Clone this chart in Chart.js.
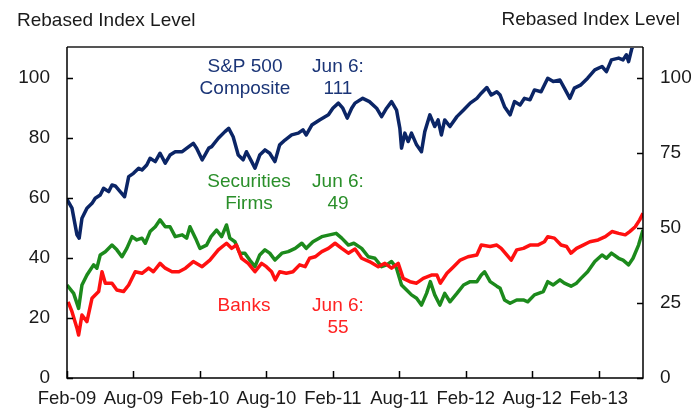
<!DOCTYPE html>
<html>
<head>
<meta charset="utf-8">
<script src="https://cdn.jsdelivr.net/npm/chart.js@4.4.1/dist/chart.umd.min.js"></script>
<style>
    html, body { margin: 0; padding: 0; background: #fff; }
    #chart { display: block; }
</style>
</head>
<body>
<canvas id="chart" width="691" height="413"></canvas>
<script>
// x values are months since Feb-09
const xTickMonths = [0, 6, 12, 18, 24, 30, 36, 42, 48];
const xTickLabels = ['Feb-09', 'Aug-09', 'Feb-10', 'Aug-10', 'Feb-11', 'Aug-11', 'Feb-12', 'Aug-12', 'Feb-13'];
const leftTicks = [0, 20, 40, 60, 80, 100];
const rightTicks = [0, 25, 50, 75, 100];

const spxMonths = [0.0, 0.45, 0.9, 1.1, 1.35, 1.8, 2.26, 2.55, 3.0, 3.3, 3.76, 4.06, 4.36, 4.8, 5.2, 5.57, 6.0, 6.47, 6.77, 7.2,
    7.5, 7.97, 8.4, 8.87, 9.3, 9.77, 10.4, 11.0, 11.4, 11.7, 12.2, 12.45, 12.8, 13.06, 13.66, 14.26, 14.6, 15.0, 15.46, 15.9,
    16.2, 16.67, 16.97, 17.4, 17.87, 18.3, 18.77, 19.2, 19.68, 20.28, 20.88, 21.3, 21.6, 22.1, 22.8, 23.6, 24.0, 24.5, 24.9, 25.3,
    25.7, 26.0, 26.7, 27.3, 27.95, 28.4, 28.85, 29.3, 29.75, 30.05, 30.2, 30.5, 30.8, 31.1, 31.56, 32.0, 32.3, 32.76, 33.2, 33.5,
    33.8, 34.1, 34.57, 35.2, 35.8, 36.4, 37.0, 37.4, 37.9, 38.3, 38.8, 39.1, 39.5, 40.0, 40.4, 40.9, 41.3, 41.8, 42.2, 42.8,
    43.4, 43.9, 44.5, 44.9, 45.4, 45.8, 46.4, 47.0, 47.65, 48.3, 48.7, 49.15, 49.8, 50.2, 50.5, 50.7, 51.0, 51.4, 52.0];
const spxValues = [59.5, 56.6, 47.7, 46.6, 53.2, 56.6, 58.2, 59.9, 61, 63.2, 62.1, 64.3, 64, 62.1, 60.4, 67.1, 68.2, 69.9, 69.3, 71,
    73.2, 72.1, 74.9, 71.6, 74.3, 75.4, 75.4, 77.1, 78.2, 76.6, 72.7, 74.3, 76.6, 77.1, 79.9, 82.1, 83.2, 80.4, 74.3, 72.7,
    75.4, 72.1, 69.9, 74.3, 76, 74.9, 72.1, 77.7, 79.3, 81, 81.6, 82.7, 81, 84.3, 86, 87.7, 89.9, 91.6, 89.9, 86.6,
    89.9, 91.6, 93.2, 92.1, 89.9, 87.1, 89.9, 92.1, 89.3, 83.2, 76.6, 81.6, 78.8, 81.6, 77.7, 75.4, 82.1, 87.7, 83.8, 86,
    81, 86, 83.8, 87.1, 89.3, 91.6, 93.2, 94.9, 96.8, 94.3, 95.4, 94.3, 90.4, 87.7, 92.1, 91, 93.2, 92.7, 96, 95.4,
    99.9, 98.8, 99.3, 96.6, 93.2, 96.6, 97.7, 99.9, 102.7, 103.8, 102.1, 106, 106.6, 106, 107.7, 105.4, 109.9, 112, 111.5];

const brokerMonths = [0.0, 0.6, 1.05, 1.35, 1.8, 2.4, 2.7, 3.0, 3.46, 4.06, 4.5, 4.96, 5.4, 5.87, 6.3, 6.77, 7.07, 7.5, 7.97, 8.4,
    8.87, 9.3, 9.77, 10.4, 10.8, 11.1, 11.6, 12.0, 12.6, 13.0, 13.5, 13.96, 14.4, 14.7, 15.16, 15.6, 16.06, 16.5, 16.97, 17.4,
    17.87, 18.3, 18.77, 19.4, 19.97, 20.6, 21.2, 21.6, 22.2, 23.0, 23.7, 24.3, 24.8, 25.4, 25.9, 26.6, 27.2, 27.8, 28.4, 28.85,
    29.3, 29.75, 30.2, 30.66, 31.1, 31.56, 32.0, 32.46, 32.8, 33.2, 33.66, 34.1, 34.57, 35.2, 35.8, 36.4, 37.0, 37.4, 37.7, 38.2,
    38.8, 39.1, 39.5, 40.0, 40.6, 41.2, 41.6, 42.2, 43.0, 43.4, 43.9, 44.5, 44.9, 45.5, 46.0, 46.4, 47.0, 47.65, 48.3, 48.7,
    49.15, 49.8, 50.2, 50.7, 51.1, 51.6, 52.0];
const brokerValues = [31, 28.2, 23.2, 31, 34.3, 37.7, 36.6, 41, 42.1, 44.3, 42.7, 40.4, 43.2, 47.1, 46, 46.6, 44.9, 48.8, 50.4, 52.7,
    50.4, 50.4, 47.1, 47.7, 46.6, 50.4, 46.6, 43.2, 44.3, 47.1, 49.3, 47.1, 51, 46.6, 45.4, 41.6, 41.6, 39.3, 37.1, 41,
    42.7, 41.6, 39.3, 41.6, 42.1, 43.2, 44.9, 43.2, 45.4, 47.1, 47.7, 48.2, 46.6, 44.3, 44.9, 43.2, 40.4, 39.9, 37.1, 37.7,
    38.8, 36.6, 31, 29.3, 27.7, 26.6, 24.3, 28.2, 32.1, 27.7, 24.3, 28.2, 25.4, 28.2, 31, 32.1, 32.1, 34.3, 35.4, 32.1,
    30.6, 29.9, 26, 24.9, 26, 26, 25.4, 27.7, 28.8, 32.1, 31, 32.7, 31.6, 30.6, 31.6, 33.2, 35.4, 38.8, 41, 39.9,
    41.6, 39.9, 39.3, 37.7, 39.9, 44.3, 49.3];

const bankMonths = [0.1, 0.45, 0.9, 1.05, 1.35, 1.8, 2.26, 2.86, 3.16, 3.46, 4.06, 4.5, 5.1, 5.57, 6.16, 6.77, 7.37, 7.8, 8.4, 8.87,
    9.48, 10.1, 10.7, 11.4, 12.2, 12.9, 13.66, 14.4, 14.86, 15.3, 15.76, 16.36, 16.97, 17.57, 18.0, 18.47, 18.8, 19.2, 19.8, 20.4,
    21.0, 21.5, 21.9, 22.4, 23.0, 23.6, 24.2, 24.8, 25.4, 26.0, 26.6, 27.3, 28.1, 28.7, 29.3, 29.9, 30.35, 30.96, 31.56, 32.16,
    32.9, 33.4, 33.7, 34.3, 34.9, 35.5, 36.2, 37.0, 37.4, 38.2, 38.8, 39.2, 39.7, 40.1, 40.6, 41.2, 41.8, 42.5, 43.1, 43.4,
    44.0, 44.6, 45.1, 45.5, 46.0, 46.6, 47.2, 47.95, 48.6, 49.2, 49.8, 50.4, 50.8, 51.3, 51.7, 52.0];
const bankValues = [25.4, 22.1, 16.6, 14.3, 21, 18.8, 26.6, 28.8, 35.4, 31.6, 31.6, 29.3, 28.8, 31, 35.4, 34.9, 36.6, 35.4, 38.2, 36.6,
    35.4, 35.4, 36.6, 38.8, 37.1, 39.3, 42.7, 44.9, 43.2, 44.3, 39.9, 38.2, 35.4, 38.2, 37.1, 35.4, 32.7, 35.4, 34.9, 35.4,
    37.7, 37.1, 39.9, 40.4, 42.1, 43.2, 44.9, 43.2, 41.6, 43, 39.9, 38.8, 37.1, 38.2, 36.6, 38.2, 33.2, 32.1, 31.6, 33.2,
    34.3, 34.3, 31.6, 34.9, 37.1, 39.3, 40.4, 41, 44.3, 43.8, 44.3, 43.2, 41, 39.3, 42.7, 43.2, 44.3, 44.3, 45.4, 47.1,
    46.6, 44.3, 43.8, 41.6, 43.2, 44.3, 45.4, 46, 47.1, 48.8, 48.2, 47.7, 48.8, 50.4, 52.7, 54.9];

const navy = '#0b2566';
const green = '#1c8a1c';
const red = '#ff1010';
const fontFamily = '"Liberation Sans", Arial, sans-serif';

function toPoints(months, values) {
    return months.map((m, i) => ({ x: m, y: values[i] }));
}

const notes = [
    { lines: ['S&P 500', 'Composite'], x: 245, y: 72, color: '#1b3577' },
    { lines: ['Jun 6:', '111'], x: 338, y: 72, color: '#1b3577' },
    { lines: ['Securities', 'Firms'], x: 249, y: 187, color: '#2a8f2a' },
    { lines: ['Jun 6:', '49'], x: 338, y: 187, color: '#2a8f2a' },
    { lines: ['Banks'], x: 244, y: 311, color: '#ff2222' },
    { lines: ['Jun 6:', '55'], x: 338, y: 311, color: '#ff2222' },
];

const framePlugin = {
    id: 'frame',
    afterDraw(chart) {
        const ctx = chart.ctx;
        const a = chart.chartArea;
        const sx = chart.scales.x;
        const sy = chart.scales.y;
        const sy1 = chart.scales.y1;

        ctx.save();
        ctx.lineCap = 'butt';

        // top border
        ctx.strokeStyle = '#555';
        ctx.lineWidth = 2;
        ctx.beginPath();
        ctx.moveTo(a.left, a.top);
        ctx.lineTo(a.right, a.top);
        ctx.stroke();

        // axes
        ctx.strokeStyle = '#000';
        ctx.lineWidth = 1.5;
        ctx.beginPath();
        ctx.moveTo(a.left, a.top);
        ctx.lineTo(a.left, a.bottom);
        ctx.lineTo(a.right, a.bottom);
        ctx.lineTo(a.right, a.top);
        ctx.stroke();

        // inward tick marks
        ctx.beginPath();
        leftTicks.forEach(v => {
            const y = Math.round(sy.getPixelForValue(v)) + 0.5;
            ctx.moveTo(a.left, y);
            ctx.lineTo(a.left + 6, y);
        });
        rightTicks.forEach(v => {
            const y = Math.round(sy1.getPixelForValue(v)) + 0.5;
            ctx.moveTo(a.right, y);
            ctx.lineTo(a.right - 6, y);
        });
        xTickMonths.forEach(m => {
            const x = Math.round(sx.getPixelForValue(m)) + 0.5;
            ctx.moveTo(x, a.bottom);
            ctx.lineTo(x, a.bottom - 7);
        });
        ctx.stroke();

        // axis titles
        ctx.fillStyle = '#1a1a1a';
        ctx.font = `19px ${fontFamily}`;
        ctx.textBaseline = 'alphabetic';
        ctx.textAlign = 'left';
        ctx.fillText('Rebased Index Level', 17, 26);
        ctx.textAlign = 'right';
        ctx.fillText('Rebased Index Level', 680, 25);

        // series notes
        ctx.textAlign = 'center';
        notes.forEach(note => {
            ctx.fillStyle = note.color;
            note.lines.forEach((text, i) => {
                ctx.fillText(text, note.x, note.y + i * 21.5);
            });
        });

        ctx.restore();
    },
};

const chart = new Chart(document.getElementById('chart'), {
    type: 'line',
    data: {
        datasets: [
            { label: 'S&P 500 Composite', data: toPoints(spxMonths, spxValues), borderColor: navy, yAxisID: 'y' },
            { label: 'Banks', data: toPoints(bankMonths, bankValues), borderColor: red, yAxisID: 'y' },
            { label: 'Securities Firms', data: toPoints(brokerMonths, brokerValues), borderColor: green, yAxisID: 'y' },
        ],
    },
    options: {
        responsive: false,
        animation: false,
        devicePixelRatio: 1,
        layout: { padding: { top: 47, left: 0, right: 0, bottom: 0 } },
        elements: {
            point: { radius: 0 },
            line: { borderWidth: 3.5, tension: 0, borderJoinStyle: 'round' },
        },
        plugins: {
            legend: { display: false },
            tooltip: { enabled: false },
        },
        scales: {
            x: {
                type: 'linear',
                min: 0,
                max: 52,
                grid: { display: false, drawTicks: false },
                border: { display: false },
                afterBuildTicks: scale => { scale.ticks = xTickMonths.map(v => ({ value: v })); },
                afterFit: scale => { scale.height = 35; scale.paddingLeft = 0; scale.paddingRight = 0; },
                ticks: {
                    autoSkip: false,
                    maxRotation: 0,
                    padding: 10,
                    color: '#1a1a1a',
                    font: { family: fontFamily, size: 18.5 },
                    callback: value => xTickLabels[xTickMonths.indexOf(value)],
                },
            },
            y: {
                position: 'left',
                min: 0,
                max: 110.3,
                grid: { display: false, drawTicks: false },
                border: { display: false },
                afterBuildTicks: scale => { scale.ticks = leftTicks.map(v => ({ value: v })); },
                afterFit: scale => { scale.width = 67; },
                ticks: {
                    padding: 17,
                    color: '#1a1a1a',
                    font: { family: fontFamily, size: 19 },
                },
            },
            y1: {
                position: 'right',
                min: 0,
                max: 110.3,
                grid: { display: false, drawTicks: false },
                border: { display: false },
                afterBuildTicks: scale => { scale.ticks = rightTicks.map(v => ({ value: v })); },
                afterFit: scale => { scale.width = 48; },
                ticks: {
                    padding: 17,
                    color: '#1a1a1a',
                    font: { family: fontFamily, size: 19 },
                },
            },
        },
    },
    plugins: [framePlugin],
});
</script>
</body>
</html>
